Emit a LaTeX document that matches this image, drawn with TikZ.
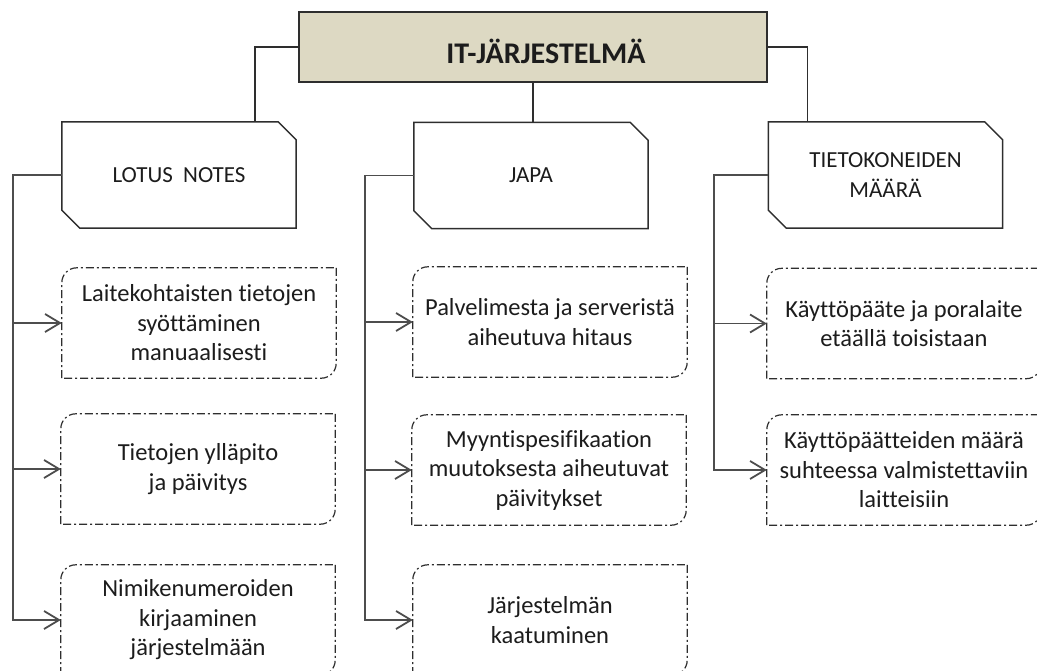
\documentclass[tikz,border=0pt]{standalone}
\usepackage{fontspec}
\setmainfont{Carlito}[Ligatures=NoCommon]
\usetikzlibrary{arrows.meta}

\definecolor{tanfill}{HTML}{DDD9C3}
\definecolor{linegray}{HTML}{2E2E2E}
\definecolor{textgray}{HTML}{1C1C1C}

\tikzset{
  topbox/.style={draw=linegray, line width=2pt, fill=tanfill, text=textgray,
    minimum width=468pt, minimum height=70pt, text height=32pt, text depth=0pt,
    font=\fontsize{30}{34}\selectfont\bfseries},
  headbox/.style={minimum width=234pt, minimum height=106pt, align=center,
    text=textgray, font=\fontsize{23}{29.5}\selectfont},
  itembox/.style={minimum width=274pt, minimum height=110pt, align=center,
    text=textgray, font=\fontsize{24.5}{29.5}\selectfont},
  headline/.style={draw=linegray, line width=1.5pt},
  itemline/.style={draw=linegray, line width=1.2pt, rounded corners=15pt,
    dash pattern=on 8pt off 3pt on 2pt off 3pt},
  link/.style={draw=linegray, line width=1.5pt},
  branch/.style={draw=linegray!85, line width=1.8pt,
    -{Straight Barb[length=15pt,width=18pt]}}
}

\begin{document}
\begin{tikzpicture}[x=1pt,y=-1pt]
  \useasboundingbox (0,0) rectangle (1037,670);
  \clip (0,0) rectangle (1037,670);

  \node[topbox] (top) at (533,47) {\hspace*{26pt}IT-JÄRJESTELMÄ};

  \node[headbox] (lotus) at (179,175) {LOTUS\ \ NOTES};
  \node[headbox] (japa) at (531,175.5) {JAPA};
  \node[headbox] (tieto) at (885.5,175) {TIETOKONEIDEN\\MÄÄRÄ};

  \foreach \n in {lotus,japa,tieto}
    \draw[headline] (\n.north west) -- ([xshift=-18pt]\n.north east)
      -- ([yshift=-18pt]\n.north east) -- (\n.south east)
      -- ([xshift=18pt]\n.south west) -- ([yshift=18pt]\n.south west) -- cycle;

  \node[itembox] (l1) at (199,323) {Laitekohtaisten tietojen\\syöttäminen\\manuaalisesti};
  \node[itembox] (l2) at (198,469) {Tietojen ylläpito\\ja päivitys};
  \node[itembox] (l3) at (198,620) {Nimikenumeroiden\\kirjaaminen\\järjestelmään};

  \node[itembox] (j1) at (550,322) {Palvelimesta ja serveristä\\aiheutuva hitaus};
  \node[itembox] (j2) at (549,470) {Myyntispesifikaation\\muutoksesta aiheutuvat\\päivitykset};
  \node[itembox] (j3) at (550,620) {Järjestelmän\\kaatuminen};

  \node[itembox] (t1) at (904,323.5) {Käyttöpääte ja poralaite\\etäällä toisistaan};
  \node[itembox] (t2) at (904,470) {Käyttöpäätteiden määrä\\suhteessa valmistettaviin\\laitteisiin};

  \foreach \n in {l1,l2,l3,j1,j2,j3,t1,t2} {
    \draw[itemline] (\n.north east) -- (\n.south east) -- (\n.south west);
    \draw[itemline] (\n.south west) -- (\n.north west) -- (\n.north east);
  }

  \draw[link] (top.west) -| ([xshift=76pt]lotus.north);
  \draw[link] (top.south) -- (top.south |- japa.north);
  \draw[link] (top.east) -| ([xshift=-78pt]tieto.north);

  \draw[branch] (lotus.west) -- ++(-49,0) |- (l1.west);
  \draw[branch] (lotus.west) -- ++(-49,0) |- (l2.west);
  \draw[branch] (lotus.west) -- ++(-49,0) |- (l3.west);

  \draw[branch] (japa.west) -- ++(-49,0) |- (j1.west);
  \draw[branch] (japa.west) -- ++(-49,0) |- (j2.west);
  \draw[branch] (japa.west) -- ++(-49,0) |- (j3.west);

  \draw[branch] (tieto.west) -- ++(-54,0) |- (t1.west);
  \draw[branch] (tieto.west) -- ++(-54,0) |- (t2.west);
\end{tikzpicture}
\end{document}
